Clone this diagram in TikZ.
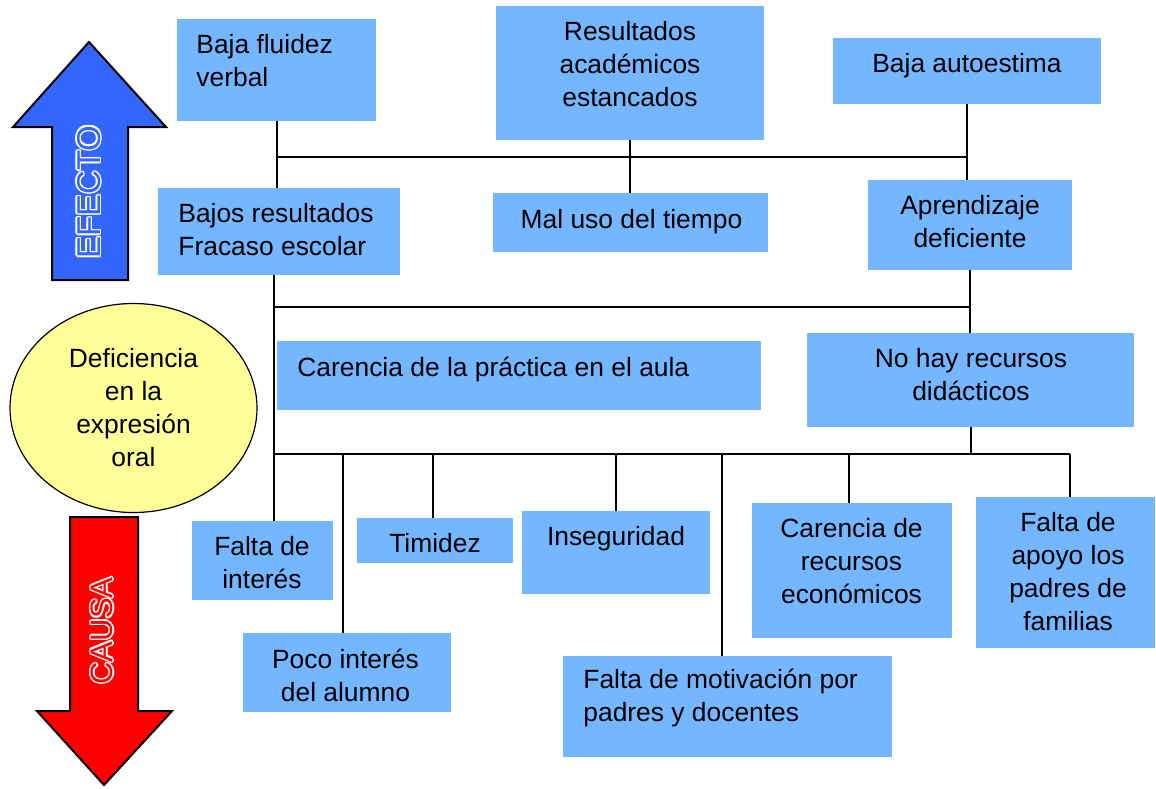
\documentclass[tikz,border=0pt]{standalone}
\usepackage{fontspec}
\setmainfont{Liberation Sans}
\usetikzlibrary{shapes.geometric,fit}
\definecolor{cajaazul}{RGB}{116,182,255}
\definecolor{flechaazul}{RGB}{51,102,255}
\definecolor{flecharoja}{RGB}{255,0,0}
\definecolor{amarillo}{RGB}{255,255,153}
\tikzset{
  caja/.style={fill=cajaazul, inner sep=0pt},
  texto/.style={font=\fontsize{13.2}{16.5}\selectfont, inner sep=0pt},
  linea/.style={line width=1pt},
  rotulo/.style={rotate=90, inner sep=0pt},
}
\begin{document}
\begin{tikzpicture}[x=0.5pt, y=-0.5pt]
  \useasboundingbox (0,0) rectangle (1156,788);

  % flechas EFECTO / CAUSA
  \filldraw[fill=flechaazul, line width=1pt] (89,42) -- (166,127) -- (128,127) -- (128,280)
    -- (52,280) -- (52,127) -- (13,127) -- cycle;
  \foreach \a in {0,30,...,330}
    \node[rotulo, text=white, font=\fontsize{16.5}{20}\selectfont] (efecto\a) at ([shift={(\a:0.7pt)}]89,192) {EFECTO};
  \node[rotulo, text=flechaazul, font=\fontsize{16.5}{20}\selectfont] (efecto) at (89,192) {EFECTO};

  \filldraw[fill=flecharoja, line width=1pt] (70,517) -- (138,517) -- (138,711) -- (172,711)
    -- (104,785) -- (37,711) -- (70,711) -- cycle;
  \foreach \a in {0,30,...,330}
    \node[rotulo, text=white, font=\fontsize{15.5}{19}\selectfont] (causa\a) at ([shift={(\a:0.7pt)}]102,631) {CAUSA};
  \node[rotulo, text=flecharoja, font=\fontsize{15.5}{19}\selectfont] (causa) at (102,631) {CAUSA};

  % problema central
  \node[ellipse, draw, fill=amarillo, line width=0.6pt, minimum width=123.5pt, minimum height=104.5pt,
        texto, align=center] (deficiencia) at (133.5,408) {Deficiencia\\en la\\expresión\\oral};

  % efectos
  \node[caja, fit={(177,19) (376,121)}] (fluidez) {};
  \node[texto, anchor=west, align=left] (fluidez-t) at (196,61) {Baja fluidez\\verbal};
  \node[caja, fit={(496,6) (764,140)}] (resultados) {};
  \node[texto, align=center] (resultados-t) at (630,64.5) {Resultados\\académicos\\estancados};
  \node[caja, fit={(833,38) (1101,104)}] (autoestima) {};
  \node[texto] (autoestima-t) at (967,66) {Baja autoestima};

  \node[caja, fit={(158,188) (400,275)}] (bajos) {};
  \node[texto, anchor=west, align=left] (bajos-t) at (178,229.5) {Bajos resultados\\Fracaso escolar};
  \node[caja, fit={(493,193) (768,252)}] (maluso) {};
  \node[texto] (maluso-t) at (631.5,222) {Mal uso del tiempo};
  \node[caja, fit={(868,180) (1072,270)}] (aprendizaje) {};
  \node[texto, align=center] (aprendizaje-t) at (970,222) {Aprendizaje\\deficiente};

  % causas
  \node[caja, fit={(277,341) (761,410)}] (practica) {};
  \node[texto, anchor=west] (practica-t) at (297,370) {Carencia de la práctica en el aula};
  \node[caja, fit={(807,333) (1134,427)}] (nohay) {};
  \node[texto, align=center] (nohay-t) at (971,375) {No hay recursos\\didácticos};

  \node[caja, fit={(192,521) (333,600)}] (faltaint) {};
  \node[texto, align=center] (faltaint-t) at (262,563) {Falta de\\interés};
  \node[caja, fit={(357,518) (513,563)}] (timidez) {};
  \node[texto] (timidez-t) at (435,543) {Timidez};
  \node[caja, fit={(522,511) (710,594)}] (inseg) {};
  \node[texto] (inseg-t) at (616,539) {Inseguridad};
  \node[caja, fit={(752,503) (952,638)}] (carencia) {};
  \node[texto, align=center] (carencia-t) at (851.5,561) {Carencia de\\recursos\\económicos};
  \node[caja, fit={(976,497) (1155,648)}] (apoyo) {};
  \node[texto, align=center] (apoyo-t) at (1068,571.5) {Falta de\\apoyo los\\padres de\\familias};
  \node[caja, fit={(243,633) (451,712)}] (poco) {};
  \node[texto, align=center] (poco-t) at (345.5,675) {Poco interés\\del alumno};
  \node[caja, fit={(563,656) (892,757)}] (motivacion) {};
  \node[texto, anchor=west, align=left] (motivacion-t) at (583,698) {Falta de motivación por\\padres y docentes};

  % lineas de union
  \coordinate (bus1) at (0,157);
  \coordinate (bus2) at (0,307);
  \coordinate (bus3) at (0,454);

  \draw[linea] (fluidez.south) -- (fluidez.south |- bajos.north);
  \draw[linea] (resultados.south) -- (resultados.south |- maluso.north);
  \draw[linea] (autoestima.south) -- (autoestima.south |- aprendizaje.north);
  \draw[linea] (fluidez.south |- bus1) -- (autoestima.south |- bus1);

  \draw[linea] ([xshift=-2.5pt]bajos.south) -- ([xshift=-2.5pt]bajos.south |- faltaint.north);
  \draw[linea] (aprendizaje.south) -- (aprendizaje.south |- nohay.north);
  \draw[linea] ([xshift=-2.5pt]bajos.south |- bus2) -- (aprendizaje.south |- bus2);

  \draw[linea] (nohay.south) -- (nohay.south |- bus3);
  \draw[linea] ([xshift=-2.5pt]bajos.south |- bus3) -- ([xshift=2pt]apoyo.north |- bus3);
  \foreach \n/\dx in {poco/-2pt,timidez/-1pt,inseg/0pt,motivacion/-3pt,carencia/-1.5pt,apoyo/2pt}
    \draw[linea] ([xshift=\dx]\n.north |- bus3) -- ([xshift=\dx]\n.north);

\end{tikzpicture}
\end{document}
